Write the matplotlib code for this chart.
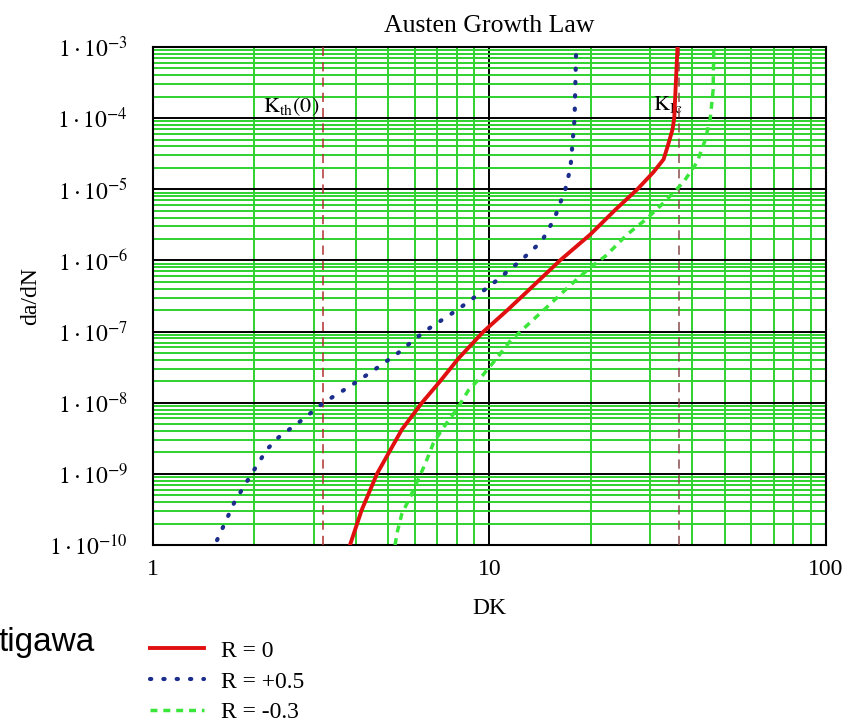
import numpy as np
import matplotlib.pyplot as plt
from matplotlib.ticker import FixedLocator, LogLocator, NullFormatter

plt.rcParams['mathtext.fontset'] = 'stix'
plt.rcParams['font.family'] = ['Liberation Serif', 'DejaVu Serif']

# R = 0
dk_r0 = [3.85, 4.17, 4.63, 5.49, 6.3, 7.13, 8.09, 9.6, 11.3, 12.9, 16.2, 19.9,
         23.6, 27.5, 30.7, 32.9, 33.6, 34.3, 35.0, 35.4, 36.2]
dadn_r0 = [1e-10, 3.1e-10, 1e-9, 4.2e-9, 1e-8, 2.0e-8, 4.2e-8, 1e-7, 2.0e-7, 3.6e-7,
           1e-6, 2.3e-6, 5.1e-6, 1e-5, 1.74e-5, 2.63e-5, 3.6e-5, 5.0e-5, 7.0e-5,
           1e-4, 1e-3]

# R = +0.5
dk_p05 = [1.55, 1.75, 1.94, 2.18, 2.35, 2.77, 3.21, 3.84, 4.5, 5.32, 6.4, 8.0,
          10.1, 12.4, 14.3, 15.6, 16.8, 17.4, 17.9, 18.1]
dadn_p05 = [1.17e-10, 4.1e-10, 9.1e-10, 2.2e-9, 3.2e-9, 5.7e-9, 1e-8, 1.69e-8,
            2.8e-8, 4.9e-8, 1e-7, 2.0e-7, 4.5e-7, 1e-6, 1.86e-6, 3.9e-6, 1e-5,
            2.0e-5, 1e-4, 1e-3]

# R = -0.3
dk_m03 = [5.24, 5.33, 5.49, 5.81, 6.44, 6.81, 7.3, 8.0, 8.66, 9.56, 10.5, 11.5,
          12.8, 14.8, 17.4, 19.9, 22.1, 23.4, 25.6, 29.4, 33.3, 37.7, 41.4, 43.8,
          45.3, 46.2, 46.4]
dadn_m03 = [1e-10, 1.58e-10, 2.75e-10, 4.7e-10, 1.38e-9, 2.7e-9, 4.5e-9, 8.1e-9,
            1.5e-8, 2.45e-8, 4.2e-8, 7.3e-8, 1.17e-7, 2.2e-7, 4.5e-7, 7.9e-7,
            1.15e-6, 1.5e-6, 2.3e-6, 3.9e-6, 6.8e-6, 1.26e-5, 2.4e-5, 5e-5,
            1e-4, 2.5e-4, 1e-3]

k_th0 = 3.21
k_ic = 36.5

y_ticks = [1e-3, 1e-4, 1e-5, 1e-6, 1e-7, 1e-8, 1e-9, 1e-10]
y_labels = [r'$1\cdot10^{-%d}$' % n for n in [3, 4, 5, 6, 7, 8, 9, 10]]
x_ticks = [1, 10, 100]
x_labels = ['1', '10', '100']

fig = plt.figure(figsize=(8.53, 7.25), dpi=100)
ax = fig.add_axes([153 / 853, 1 - 545 / 725, 673 / 853, 498 / 725])
ax.set_xscale('log')
ax.set_yscale('log')
ax.set_xlim(1, 100)
ax.set_ylim(1e-10, 1e-3)

ax.plot(dk_r0, dadn_r0, color='#e01010', lw=2.8, label='R = 0', zorder=5)
ax.plot(dk_p05, dadn_p05, color='#1c2e8c', lw=3.0, ls=(0, (0.3, 2.9)),
        dash_capstyle='round', label='R = +0.5', zorder=5)
ax.plot(dk_m03, dadn_m03, color='#3ae63a', lw=2.5, ls=(0, (2, 1.7)),
        label='R = -0.3', zorder=5)

ax.axvline(k_th0, color='#b03030', lw=1.1, ls=(0, (6, 4)), zorder=4)
ax.axvline(k_ic, color='#8a4a4a', lw=1.1, ls=(0, (6, 4)), zorder=4)

ax.text(2.12, 10 ** -3.91, r'$\mathrm{K_{th}(0)}$', fontsize=16, va='baseline', zorder=6)
ax.text(30.7, 10 ** -3.88, r'$\mathrm{K_{Ic}}$', fontsize=16, va='baseline', zorder=3)

# grid
ax.yaxis.set_major_locator(FixedLocator(y_ticks))
ax.set_yticklabels(y_labels)
ax.xaxis.set_major_locator(FixedLocator(x_ticks))
ax.set_xticklabels(x_labels)
ax.xaxis.set_minor_locator(LogLocator(base=10, subs=np.arange(2, 10), numticks=50))
ax.yaxis.set_minor_locator(LogLocator(base=10, subs=np.arange(2, 10), numticks=50))
ax.xaxis.set_minor_formatter(NullFormatter())
ax.yaxis.set_minor_formatter(NullFormatter())
ax.set_axisbelow(True)
ax.grid(which='minor', color='#2fd22f', lw=1.4)
ax.grid(which='major', color='black', lw=1.4)

ax.tick_params(which='both', length=0)
ax.tick_params(axis='y', labelsize=17, pad=18)
ax.tick_params(axis='x', labelsize=17, pad=10)
for s in ax.spines.values():
    s.set_linewidth(1.5)
    s.set_color('black')

ax.set_title('Austen Growth Law', fontsize=18.5, pad=11)
ax.set_xlabel('DK', fontsize=17, labelpad=13)
ax.set_ylabel('da/dN', fontsize=17, labelpad=6)

fig.legend(loc='upper left', bbox_to_anchor=(150 / 853, 1 - 640 / 725), frameon=False,
           fontsize=17, handlelength=2.3, handletextpad=0.7, labelspacing=0.4,
           borderpad=0, borderaxespad=0)

fig.text(-0.002, 1 - 642 / 725, 'tigawa', fontsize=24, family='Liberation Sans',
         va='center', ha='left')

fig.savefig('out.png', dpi=100)
